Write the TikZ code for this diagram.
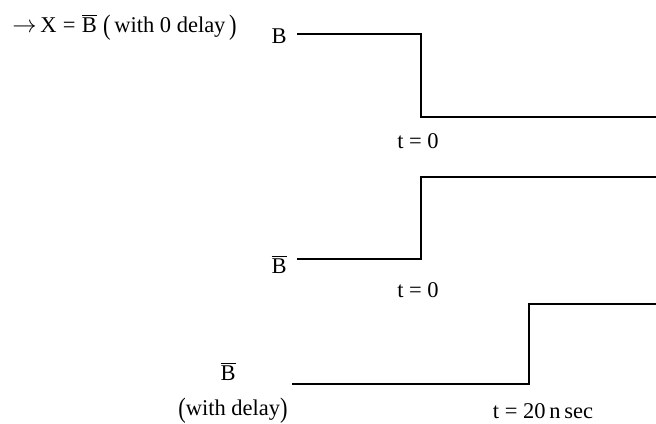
\documentclass[tikz,border=0pt]{standalone}
\usepackage{fontspec}
\setmainfont{Liberation Serif}
\newcommand{\tallp}[1]{\raisebox{-0.12em}{\scalebox{1}[1.25]{#1}}}
\begin{document}
\begin{tikzpicture}[
      x=0.025cm, y=-0.025cm,
      every node/.style={font=\fontsize{16}{19}\selectfont, inner sep=0pt},
      wave/.style={line width=1.1pt, line join=miter},
      sig/.style={anchor=base east},
      tlabel/.style={anchor=base},
    ]
    \useasboundingbox (0,0) rectangle (656,423);
    % Heading
    \node[anchor=base west] (head) at (12,32)
      {$\rightarrow$\,X\;=\;$\overline{\hbox{B}}$\;\tallp{(}\,with 0 delay\,\tallp{)}};
    % Input B, falls at t = 0
    \node[sig] (B) at (287,43) {B};
    \coordinate (b0) at (297,34);
    \coordinate (b1) at (421,117);
    \coordinate (b2) at (656,117);
    \draw[wave] (b0) -| (b1) -- (b2);
    \node[tlabel] (tb) at (418,148) {t = 0};
    % Inverted, no delay
    \node[sig] (nB) at (287,273) {$\overline{\hbox{B}}$};
    \coordinate (n0) at (297,259);
    \coordinate (n1) at (421,177);
    \coordinate (n2) at (656,177);
    \draw[wave] (n0) -| (n1) -- (n2);
    \node[tlabel] (tn) at (418,297) {t = 0};
    % Inverted, with delay
    \node[tlabel] (dB) at (228,380) {$\overline{\hbox{B}}$};
    \node[tlabel] (dl) at (233,415) {\tallp{(}with delay\tallp{)}};
    \coordinate (d0) at (292,384);
    \coordinate (d1) at (529,304);
    \coordinate (d2) at (656,304);
    \draw[wave] (d0) -| (d1) -- (d2);
    \node[tlabel] (td) at (543,418) {t = 20\,n\,sec};
  \end{tikzpicture}
\end{document}
